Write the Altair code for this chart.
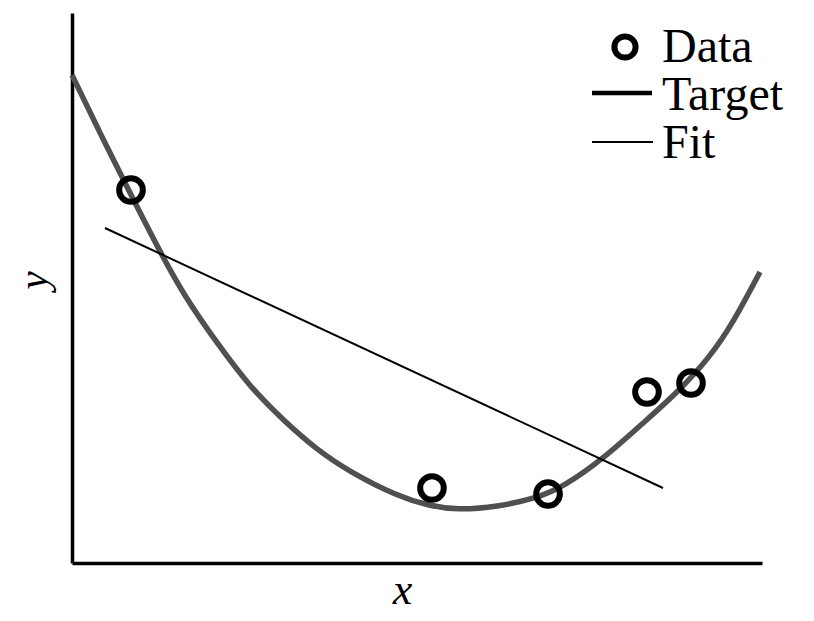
import altair as alt
import pandas as pd

# Target curve
target_x = [0.0, 0.406, 0.797, 1.275, 1.638, 2.101, 2.580, 3.058, 3.551, 4.029, 4.710,
            5.188, 5.580, 6.159, 6.739, 7.116, 7.696, 8.275, 8.768, 9.246, 9.580, 9.971]
target_y = [8.873, 7.818, 6.836, 5.655, 4.836, 4.000, 3.200, 2.600, 2.055, 1.655, 1.218,
            1.036, 0.964, 1.018, 1.182, 1.382, 1.891, 2.545, 3.091, 3.745, 4.364, 5.291]

# Data points
data_x = [0.855, 5.217, 6.899, 8.333, 8.971]
data_y = [6.782, 1.364, 1.255, 3.109, 3.273]

# Linear fit endpoints
fit_x = [0.478, 8.565]
fit_y = [6.091, 1.364]

legend_labels = ["Data", "Target", "Fit"]

SERIF = "Liberation Serif"

xs = alt.Scale(domain=[0, 10], nice=False, zero=False)
ys = alt.Scale(domain=[0, 10], nice=False, zero=False)

xaxis = alt.Axis(domain=True, ticks=False, labels=False, grid=False,
                 domainColor="black", domainWidth=3.5,
                 title="x", titleFont=SERIF, titleFontStyle="italic",
                 titleFontWeight="normal", titleFontSize=44, titleColor="black",
                 titleX=330, titleY=40, titleBaseline="alphabetic", titleAlign="center")
yaxis = alt.Axis(domain=True, ticks=False, labels=False, grid=False,
                 domainColor="black", domainWidth=3.5,
                 title="y", titleFont=SERIF, titleFontStyle="italic",
                 titleFontWeight="normal", titleFontSize=41, titleColor="black",
                 titleX=-26, titleY=267, titleAngle=270,
                 titleBaseline="alphabetic", titleAlign="center")

target_df = pd.DataFrame({"x": target_x, "y": target_y})
data_df = pd.DataFrame({"x": data_x, "y": data_y})
fit_df = pd.DataFrame({"x": fit_x, "y": fit_y})

target = alt.Chart(target_df).mark_line(
    color="#505050", strokeWidth=5.5, interpolate="basis"
).encode(
    x=alt.X("x:Q", scale=xs, axis=xaxis),
    y=alt.Y("y:Q", scale=ys, axis=yaxis),
    order="x:Q",
)

fit = alt.Chart(fit_df).mark_line(color="black", strokeWidth=2).encode(
    x=alt.X("x:Q", scale=xs, axis=xaxis),
    y=alt.Y("y:Q", scale=ys, axis=yaxis),
)

points = alt.Chart(data_df).mark_point(
    shape="circle", filled=False, size=560, strokeWidth=6, color="black", opacity=1
).encode(
    x=alt.X("x:Q", scale=xs, axis=xaxis),
    y=alt.Y("y:Q", scale=ys, axis=yaxis),
)

# Manual legend
one = pd.DataFrame({"k": [0]})
leg_circle = alt.Chart(one).mark_point(
    shape="circle", filled=False, size=450, strokeWidth=6, color="black", opacity=1
).encode(x=alt.value(553), y=alt.value(34))

leg_target = alt.Chart(one).mark_rule(color="black", strokeWidth=4.5).encode(
    x=alt.value(520), x2=alt.value(580), y=alt.value(80))
leg_fit = alt.Chart(one).mark_rule(color="black", strokeWidth=2).encode(
    x=alt.value(520), x2=alt.value(581), y=alt.value(129))

text_layers = []
for lab, yy in zip(legend_labels, [49, 97, 145]):
    text_layers.append(
        alt.Chart(pd.DataFrame({"label": [lab]})).mark_text(
            font=SERIF, fontSize=48, color="black", align="left", baseline="alphabetic"
        ).encode(x=alt.value(590), y=alt.value(yy), text="label:N")
    )

chart = alt.layer(target, fit, points, leg_circle, leg_target, leg_fit, *text_layers).properties(
    width=690, height=550,
    padding={"left": 64, "top": 5, "right": 44, "bottom": 50},
    autosize="none",
    background="white",
).configure_view(stroke=None)

chart.save("out.html", embed_options={"renderer": "svg", "actions": False})
